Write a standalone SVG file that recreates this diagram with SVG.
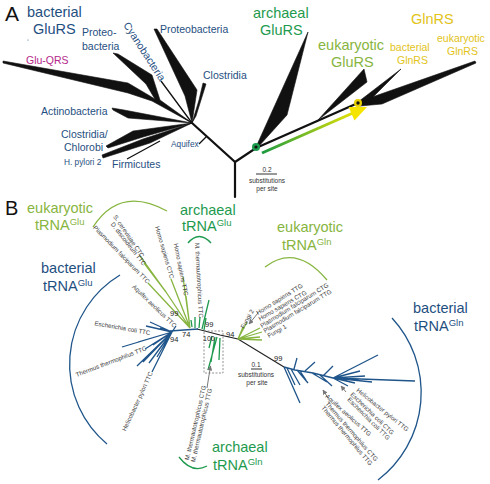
<svg xmlns="http://www.w3.org/2000/svg" width="490" height="484" viewBox="0 0 490 484">
<defs>
<linearGradient id="grad" gradientUnits="userSpaceOnUse" x1="262" y1="153" x2="360" y2="110">
<stop offset="0" stop-color="#1a9a40"/>
<stop offset="1" stop-color="#f2e600"/>
</linearGradient>
<marker id="garrow" viewBox="0 0 10 10" refX="9" refY="5" markerWidth="5" markerHeight="5" orient="auto">
<path d="M0,0 L10,5 L0,10 z" fill="#777"/>
</marker>
<style>
text{font-family:"Liberation Sans",Arial,sans-serif}
.panel{font-size:21px;fill:#111}
.big{font-size:14.5px}
.sup{font-size:9.5px}
.mid{font-size:10.5px;fill:#1f4f7f}
.small{font-size:8.3px;fill:#1f4f7f}
.blue{fill:#1f4f7f}
.lgreen{fill:#87b540}
.green{fill:#1e9a4e}
.yellow{fill:#e2c318}
.leaf{font-size:6.2px;fill:#3a3a3a}
.boot{font-size:7.5px;fill:#222}
.scale{font-size:6.5px;fill:#333;text-anchor:middle}
.wedge{fill:#111;stroke:#111;stroke-width:0.6;stroke-linejoin:round}
.trunk{stroke:#111;stroke-width:2.2;fill:none;stroke-linecap:round}
.thin{stroke:#111;stroke-width:1.3;fill:none}
.bl{stroke:#1f558a;stroke-width:1.3;fill:none}
.lg{stroke:#87b540;stroke-width:1.3;fill:none}
.gr{stroke:#1e9a4e;stroke-width:1.3;fill:none}
.bk{stroke:#222;stroke-width:1.2;fill:none}
.arc{fill:none;stroke-width:1.3}
.ga{stroke:#777;stroke-width:1;fill:none;marker-end:url(#garrow)}
</style>
</defs>

<!-- ============ PANEL A ============ -->
<text class="panel" x="5" y="21">A</text>

<g id="connectors-A">
<path class="trunk" d="M192,123 L235,162 L235,197 M235,162 L256,148 L358,103"/>
<path class="thin" d="M192,123 L161,81 M127,159 L160,141 M199,144 L207,136"/>
<line x1="262" y1="153" x2="353" y2="113" stroke="url(#grad)" stroke-width="3"/>
<polygon points="367,107 348.6,107 354.5,120.5" fill="#f5e400"/>
</g>

<g id="glu-qrs"><polygon class="wedge" points="3,61 128,83 150,96 192,123 152,101 128,93 3,63"/><text x="26" y="64" style="font-size:10.5px;fill:#b5288a">Glu-QRS</text></g>
<g id="proteo-left"><polygon class="wedge" points="113,53 118,54 152,75 160,100 192,123 156,101 146,84"/><text class="mid" x="82" y="36">Proteo-</text><text class="mid" x="82" y="50">bacteria</text></g>
<g id="cyano"><text class="mid" transform="translate(123,25) rotate(57)">Cyanobacteria</text></g>
<g id="proteo-right"><polygon class="wedge" points="154,29 157,29 197,90 192,123 185,96"/><text class="mid" x="160" y="33">Proteobacteria</text></g>
<g id="clostridia"><polygon class="wedge" points="203,83 206,84 196,116 192,123 199,100"/><text class="mid" x="203" y="79">Clostridia</text></g>
<g id="actino"><polygon class="wedge" points="112,108 124,110 192,123 128,118 113,110"/><text class="mid" x="41" y="115">Actinobacteria</text></g>
<g id="clos-chlor"><polygon class="wedge" points="106,146 133,131 192,123 143,137 108,148"/><text class="mid" x="61" y="138">Clostridia/</text><text class="mid" x="64" y="151">Chlorobi</text></g>
<g id="hpylori2"><polygon class="wedge" points="102,155 143,139 192,123 150,143 103,158"/><text class="small" x="64" y="165">H. pylori 2</text></g>
<g id="firmicutes"><text class="mid" x="112" y="168">Firmicutes</text></g>
<g id="aquifex"><text class="small" x="171" y="147">Aquifex</text></g>
<g id="bact-glurs"><text class="big blue" x="27" y="17">bacterial</text><text class="big blue" x="33" y="34">GluRS</text><circle cx="28" cy="40" r="0.5" fill="#1f4f7f"/></g>

<g id="arch-glurs"><polygon class="wedge" points="256,147 308,32 287,115 259,146"/><text class="big green" x="253" y="18">archaeal</text><text class="big green" x="260" y="35">GluRS</text></g>
<g id="euk-glurs"><polygon class="wedge" points="318,120 364,69 367,82"/><text class="big lgreen" x="318" y="50">eukaryotic</text><text class="big lgreen" x="331" y="67">GluRS</text></g>
<g id="bact-glnrs"><polygon class="wedge" points="358,102 401,69 382,88 366,104"/><text class="yellow" x="390" y="51" style="font-size:10.5px">bacterial</text><text class="yellow" x="397" y="64" style="font-size:10.5px">GlnRS</text></g>
<g id="euk-glnrs"><polygon class="wedge" points="358,102 475,61 476,63 382,104 360,106"/><text class="yellow" x="437" y="42" style="font-size:10.5px">eukaryotic</text><text class="yellow" x="447" y="55" style="font-size:10.5px">GlnRS</text></g>
<g id="glnrs"><text class="big yellow" x="411" y="24">GlnRS</text></g>
<g id="node-green"><circle cx="256" cy="147" r="4" fill="#1e9a4e"/><circle cx="256" cy="147" r="1.6" fill="#111"/></g>
<g id="node-yellow"><circle cx="358" cy="103" r="4" fill="#e8d000"/><circle cx="358" cy="103" r="1.7" fill="#111"/></g>
<g id="scale-A"><line x1="256" y1="174" x2="277" y2="174" stroke="#333" stroke-width="1"/><text class="scale" x="267" y="172">0.2</text><text class="scale" x="267" y="183">substitutions</text><text class="scale" x="267" y="191">per site</text></g>

<!-- ============ PANEL B ============ -->
<text class="panel" x="5" y="215" style="font-size:20px">B</text>

<g id="connectors-B">
<!-- backbone -->
<path class="bk" d="M197,329 L220,335 L238,339 L284,367"/>
<path class="bl" d="M170,331 L198,329"/>
<!-- bacterial Glu fan -->
<path class="bl" d="M172,332 L150,322 M172,332 L146,326 M172,332 L160,328 M172,332 L122,347 M172,332 L138,342 M172,332 L145,349 M172,332 L153,345 M172,332 L137,366 M172,332 L143,362 M172,332 L149,363 M172,332 L157,357 M172,332 L152,372 M172,332 L176,326"/>
<!-- eukaryotic Glu -->
<path class="lg" d="M190,328 L166,292 L140,256 M166,292 L144,263 M190,328 L148,283 M190,328 L171,279 M190,328 L183,277 M190,328 L186,296"/>
<!-- archaeal Glu -->
<path class="gr" d="M192,327 L191,320 M195,328 L195,317 M199,328 L200,317 M202,329 L209,300 M204,330 L206,318"/>
<!-- eukaryotic Gln -->
<path class="lg" d="M238,339 L247,322 M238,339 L243,327 M238,339 L260,328 M238,339 L262,332 M238,339 L260,337 M238,339 L262,340"/>
<!-- archaeal Gln -->
<path class="gr" d="M217,337 L208,370 M215,337 L211,362 M220,338 L219,360 M212,336 L209,348"/>
<rect x="204" y="331" width="19" height="42" fill="none" stroke="#777" stroke-width="0.8" stroke-dasharray="2,1.5"/>
<!-- bacterial Gln -->
<path class="bl" d="M284,367 L295,370 L313,373 L333,378 M333,378 L378,355 M333,378 L415,381 M333,378 L365,376 M333,378 L372,382 M333,378 L355,383 M333,378 L348,386 M333,378 L360,371 M284,367 L300,403 M287,368 L295,385 M291,369 L300,385 M297,370 L308,383 M294,369 L297,358 M305,371 L315,362 M312,373 L327,382 M320,375 L332,386 M300,371 L306,380 M323,376 L333,366"/>
<!-- grey arrows -->
<line class="ga" x1="207" y1="388" x2="210.5" y2="366"/>
<line class="ga" x1="258" y1="313" x2="249" y2="324"/>
<line class="ga" x1="328" y1="398" x2="323" y2="390"/>
<line class="ga" x1="346" y1="392" x2="341" y2="386"/>
</g>

<!-- clade labels and arcs -->
<g id="euk-trna-glu"><path class="arc" stroke="#87b540" d="M93,227 Q120,185 167,211"/><text class="big lgreen" x="27" y="213">eukaryotic</text><text class="big lgreen" x="35" y="230">tRNA<tspan class="sup" dy="-5">Glu</tspan></text></g>
<g id="arch-trna-glu"><path class="arc" stroke="#1e9a4e" d="M188,243 Q199,230 211,243"/><text class="big green" x="180" y="215">archaeal</text><text class="big green" x="182" y="231">tRNA<tspan class="sup" dy="-5">Glu</tspan></text></g>
<g id="bact-trna-glu"><path class="arc" stroke="#1f558a" d="M120,275 A104,104 0 0 0 107,444"/><text class="big blue" x="41" y="273">bacterial</text><text class="big blue" x="43" y="291">tRNA<tspan class="sup" dy="-5">Glu</tspan></text></g>
<g id="euk-trna-gln"><path class="arc" stroke="#87b540" d="M265,267 Q296,243 327,280"/><text class="big lgreen" x="277" y="232">eukaryotic</text><text class="big lgreen" x="282" y="250">tRNA<tspan class="sup" dy="-5">Gln</tspan></text></g>
<g id="bact-trna-gln"><path class="arc" stroke="#1f558a" d="M392,318 A110,110 0 0 1 378,480"/><text class="big blue" x="413" y="313">bacterial</text><text class="big blue" x="414" y="331">tRNA<tspan class="sup" dy="-5">Gln</tspan></text></g>
<g id="arch-trna-gln"><path class="arc" stroke="#1e9a4e" d="M179,457 Q192,474 207,466"/><text class="big green" x="212" y="452">archaeal</text><text class="big green" x="213" y="470">tRNA<tspan class="sup" dy="-5">Gln</tspan></text></g>

<!-- leaf labels -->
<g id="leaves-glu">
<text class="leaf" text-anchor="end" transform="translate(141,258) rotate(56)">S. cerevisiae CTC</text>
<text class="leaf" text-anchor="end" transform="translate(143,266) rotate(52)">D. discoideum TTC</text>
<text class="leaf" text-anchor="end" transform="translate(147,284) rotate(46)">Plasmodium falciparum TTC</text>
<text class="leaf" text-anchor="end" transform="translate(170,279) rotate(74)">Homo sapiens CTC</text>
<text class="leaf" text-anchor="end" transform="translate(184,296) rotate(79)">Homo sapiens TTC</text>
<text class="leaf" text-anchor="end" transform="translate(199,318) rotate(87)">M. thermautotrophicus TTC</text>
<text class="leaf" text-anchor="end" transform="translate(174,328) rotate(44)">Aquifex aeolicus TTC</text>
<text class="leaf" text-anchor="end" transform="translate(150,335) rotate(10)">Escherichia coli TTC</text>
<text class="leaf" text-anchor="end" transform="translate(147,350) rotate(-21)">Thermus thermophilus TTC</text>
<text class="leaf" text-anchor="end" transform="translate(153,373) rotate(-65)">Helicobacter pylori TTC</text>
</g>
<g id="leaves-gln">
<text class="leaf" transform="translate(244,329) rotate(-60)">Fungi 2</text>
<text class="leaf" transform="translate(258,315) rotate(-32)">Homo sapiens TTG</text>
<text class="leaf" transform="translate(260,321) rotate(-30)">Homo sapiens CTG</text>
<text class="leaf" transform="translate(262,328) rotate(-32)">Plasmodium falciparum CTG</text>
<text class="leaf" transform="translate(265,333) rotate(-31)">Plasmodium falciparum TTG</text>
<text class="leaf" transform="translate(269,338) rotate(-30)">Fungi 1</text>
<text class="leaf" text-anchor="end" transform="translate(206,386) rotate(-77)">M. thermautotrophicus CTG</text>
<text class="leaf" text-anchor="end" transform="translate(212,389) rotate(-77)">M. thermautotrophicus TTG</text>
<text class="leaf" transform="translate(356,391) rotate(39)">Helicobacter pylori TTG</text>
<text class="leaf" transform="translate(350,395) rotate(44)">Escherichia coli CTG</text>
<text class="leaf" transform="translate(347,400) rotate(45)">Escherichia coli TTG</text>
<text class="leaf" transform="translate(325,397) rotate(42)">Aquifex aeolicus TTG</text>
<text class="leaf" transform="translate(325,404) rotate(49)">Thermus thermophilus CTG</text>
<text class="leaf" transform="translate(321,408) rotate(50)">Thermus thermophilus TTG</text>
</g>

<g id="bootstrap">
<text class="boot" x="170" y="316">99</text>
<text class="boot" x="170" y="342">94</text>
<text class="boot" x="182" y="337">74</text>
<text class="boot" x="205" y="327">99</text>
<text class="boot" x="203" y="341" style="font-size:7px">100</text>
<text class="boot" x="226" y="337">94</text>
<text class="boot" x="274" y="361">99</text>
</g>

<g id="scale-B"><line x1="251" y1="369" x2="262" y2="369" stroke="#333" stroke-width="1"/><text class="scale" x="256" y="367">0.1</text><text class="scale" x="256" y="377">substitutions</text><text class="scale" x="257" y="385">per site</text></g>
</svg>
